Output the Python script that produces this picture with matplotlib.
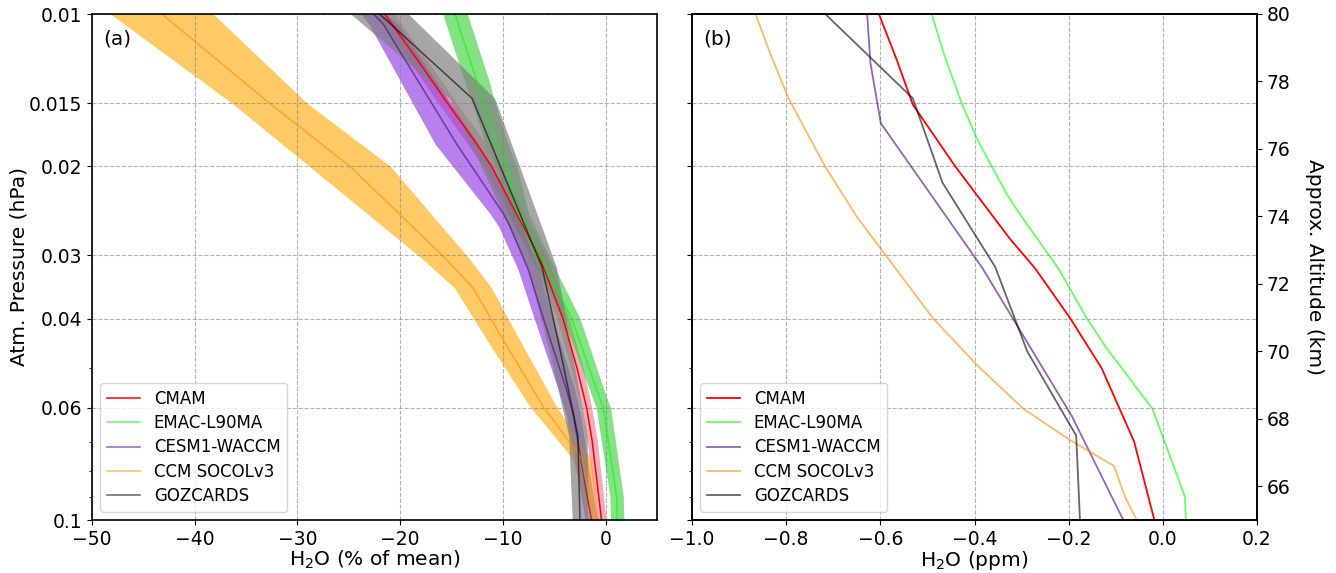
import matplotlib.pyplot as plt
import matplotlib.ticker as mticker
import numpy as np

# ---- (a) anomalies in % of mean, line + spread band ----
cmam_p = [0.01, 0.0125, 0.015, 0.018, 0.02, 0.025, 0.03, 0.04, 0.05, 0.06, 0.07, 0.1]
cmam_pct = [-21.5, -18.1, -15.4, -12.6, -11.1, -8.6, -6.5, -4.15, -2.8, -1.85, -1.3, -0.4]
cmam_sd = [0.9, 0.9, 0.9, 0.9, 0.8, 0.8, 0.7, 0.6, 0.6, 0.5, 0.5, 0.45]

emac_p = [0.01, 0.01355, 0.015, 0.01807, 0.02, 0.0248, 0.0311, 0.0399, 0.0553, 0.06, 0.09, 0.1]
emac_pct = [-14.66, -12.55, -11.88, -10.61, -9.64, -8.5, -6.07, -3.31, -0.87, -0.22, 1.07, 1.13]
emac_sd = [1.2, 1.2, 1.1, 1.1, 1.0, 1.0, 0.9, 0.8, 0.7, 0.7, 0.65, 0.65]

cesm_p = [0.01, 0.01047, 0.01807, 0.0248, 0.0263, 0.032, 0.0399, 0.0553, 0.0617, 0.0885, 0.1]
cesm_pct = [-22.6, -21.65, -14.5, -9.96, -9.31, -7.53, -6.07, -3.8, -3.16, -1.85, -1.37]
cesm_sd = [1.2, 1.4, 2.1, 1.3, 1.1, 1.0, 0.9, 0.8, 0.7, 0.6, 0.6]

socol_p = [0.01, 0.01502, 0.02, 0.0304, 0.0348, 0.0441, 0.0597, 0.0756, 0.1]
socol_pct = [-43.2, -32.7, -24.9, -15.6, -12.9, -9.96, -6.07, -2.33, -1.2]
socol_sd = [5.0, 3.65, 3.95, 2.3, 1.8, 1.6, 1.3, 0.9, 0.4]

goz_p = [0.01, 0.01468, 0.02154, 0.03162, 0.04642, 0.06813, 0.1]
goz_pct = [-22.0, -13.0, -9.6, -6.2, -4.4, -2.7, -2.5]
goz_sd = [2.8, 2.2, 1.8, 1.4, 1.1, 0.9, 0.75]

# ---- (b) anomalies in ppm ----
cmam_p2 = [0.01, 0.01233, 0.0151, 0.02, 0.0278, 0.0318, 0.0399, 0.0501, 0.07, 0.1]
cmam_ppm = [-0.603, -0.565, -0.531, -0.441, -0.325, -0.2715, -0.197, -0.13, -0.061, -0.018]

emac_p2 = [0.01, 0.01214, 0.01502, 0.01761, 0.01973, 0.02296, 0.02515, 0.0318, 0.0399, 0.0458, 0.0603, 0.09, 0.1]
emac_ppm = [-0.491, -0.463, -0.427, -0.395, -0.367, -0.328, -0.3, -0.222, -0.162, -0.119, -0.022, 0.047, 0.049]

cesm_p2 = [0.01, 0.0125, 0.01644, 0.0318, 0.0624, 0.1]
cesm_ppm = [-0.628, -0.621, -0.599, -0.383, -0.193, -0.084]

socol_p2 = [0.01, 0.01196, 0.01468, 0.02, 0.02515, 0.02927, 0.04, 0.0494, 0.0603, 0.0695, 0.0782, 0.09, 0.1]
socol_ppm = [-0.865, -0.834, -0.795, -0.7175, -0.65, -0.597, -0.4875, -0.395, -0.296, -0.197, -0.1037, -0.0803, -0.0555]

goz_p2 = [0.01, 0.01468, 0.02154, 0.03162, 0.04642, 0.06813, 0.1]
goz_ppm = [-0.717, -0.531, -0.468, -0.356, -0.288, -0.184, -0.176]

names = ['CMAM', 'EMAC-L90MA', 'CESM1-WACCM', 'CCM SOCOLv3', 'GOZCARDS']
line_cols = [('red', 1.0), ('lime', 0.6), ('indigo', 0.6), ('darkorange', 0.6), ('black', 0.6)]
band_cols = [('crimson', 0.35), ('limegreen', 0.6), ('blueviolet', 0.6), ('orange', 0.6), ('grey', 0.7)]

p_ticks = [0.01, 0.015, 0.02, 0.03, 0.04, 0.06, 0.1]
p_labels = ['0.01', '0.015', '0.02', '0.03', '0.04', '0.06', '0.1']

fig = plt.figure(figsize=(13.36, 5.73), dpi=100)
W, H = 1336, 573
ax1 = fig.add_axes([92 / W, 1 - 520 / H, 565 / W, 506 / H])
ax2 = fig.add_axes([692 / W, 1 - 520 / H, 565 / W, 506 / H])

left = [(cmam_p, cmam_pct, cmam_sd), (emac_p, emac_pct, emac_sd), (cesm_p, cesm_pct, cesm_sd),
        (socol_p, socol_pct, socol_sd), (goz_p, goz_pct, goz_sd)]
for (p, v, sd), name, (lc, la), (bc, ba) in zip(left, names, line_cols, band_cols):
    v = np.array(v)
    sd = np.array(sd)
    ax1.fill_betweenx(p, v - sd, v + sd, color=bc, alpha=ba, lw=0)
    ax1.plot(v, p, color=lc, alpha=la, lw=1.1, label=name)

right = [(cmam_p2, cmam_ppm), (emac_p2, emac_ppm), (cesm_p2, cesm_ppm), (socol_p2, socol_ppm), (goz_p2, goz_ppm)]
for (p, v), name, (lc, la) in zip(right, names, line_cols):
    ax2.plot(v, p, color=lc, alpha=la, lw=1.3, label=name)

for ax in (ax1, ax2):
    ax.set_yscale('log')
    ax.set_ylim(0.1, 0.01)
    ax.set_yticks(p_ticks)
    ax.set_yticklabels(p_labels)
    ax.yaxis.set_minor_formatter(mticker.NullFormatter())
    ax.tick_params(labelsize=13.5)
    ax.grid(True, which='major', ls='--', color='grey', alpha=0.6, lw=0.8)
    ax.legend(loc='lower left', fontsize=12, labelspacing=0.38)
    for s in ax.spines.values():
        s.set_linewidth(1.2)

ax1.set_xlim(-50, 5)
ax1.set_xticks([-50, -40, -30, -20, -10, 0])
ax1.set_xlabel(r'H$_2$O (% of mean)', fontsize=14.5, labelpad=0)
ax1.set_ylabel('Atm. Pressure (hPa)', fontsize=14.5, labelpad=0)
ax1.text(0.02, 0.97, '(a)', transform=ax1.transAxes, fontsize=14.5, va='top')

ax2.set_xlim(-1.0, 0.2)
ax2.set_xticks([-1.0, -0.8, -0.6, -0.4, -0.2, 0.0, 0.2])
ax2.tick_params(labelleft=False)
ax2.set_xlabel(r'H$_2$O (ppm)', fontsize=14.5, labelpad=0)
ax2.text(0.02, 0.97, '(b)', transform=ax2.transAxes, fontsize=14.5, va='top')

ax3 = ax2.twinx()
ax3.set_ylim(65, 80)
ax3.set_yticks(np.arange(66, 81, 2))
ax3.tick_params(labelsize=13.5)
ax3.set_ylabel('Approx. Altitude (km)', fontsize=14.5, rotation=270, labelpad=24)
for s in ax3.spines.values():
    s.set_linewidth(1.2)

fig.savefig('out.png', dpi=100)
